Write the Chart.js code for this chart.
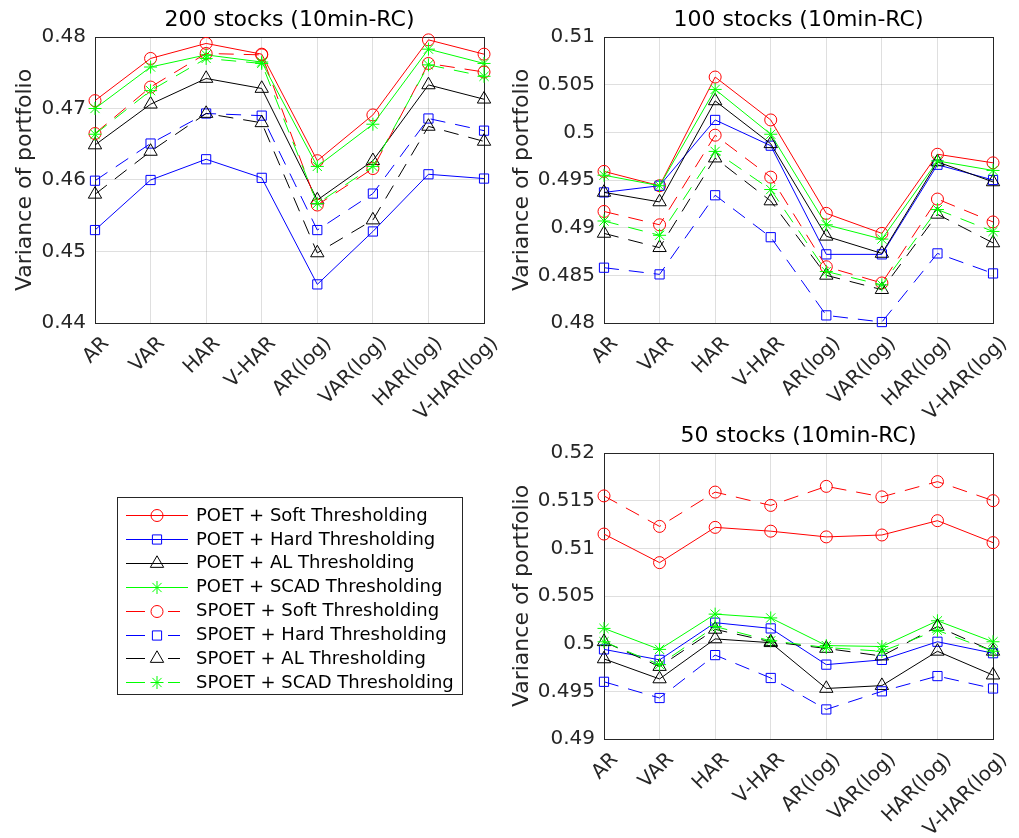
<!DOCTYPE html>
<html>
<head>
<meta charset="utf-8">
<script src="https://cdn.jsdelivr.net/npm/chart.js@4.4.1/dist/chart.umd.min.js"></script>
<style>
  body { margin: 0; background: #fff; }
  #wrap { position: relative; width: 1019px; height: 838px; }
  canvas { position: absolute; }
</style>
</head>
<body>
<div id="wrap">
  <canvas id="c200" width="510" height="420" style="left:0;top:0"></canvas>
  <canvas id="c100" width="519" height="420" style="left:500px;top:0"></canvas>
  <canvas id="c50" width="519" height="422" style="left:500px;top:416px"></canvas>
  <canvas id="legend" width="360" height="212" style="left:110px;top:490px"></canvas>
</div>
<script>
// categories (x axis)
const categories = ['AR', 'VAR', 'HAR', 'V-HAR', 'AR(log)', 'VAR(log)', 'HAR(log)', 'V-HAR(log)'];

const seriesNames = [
  'POET + Soft Thresholding', 'POET + Hard Thresholding', 'POET + AL Thresholding', 'POET + SCAD Thresholding',
  'SPOET + Soft Thresholding', 'SPOET + Hard Thresholding', 'SPOET + AL Thresholding', 'SPOET + SCAD Thresholding'
];

// y ticks per panel
const yTicks200 = [0.44, 0.45, 0.46, 0.47, 0.48];
const yTicks100 = [0.48, 0.485, 0.49, 0.495, 0.5, 0.505, 0.51];
const yTicks50 = [0.49, 0.495, 0.5, 0.505, 0.51, 0.515, 0.52];

// 200 stocks
const poetSoft200 = [0.4711, 0.4770, 0.4791, 0.4776, 0.4627, 0.4691, 0.4796, 0.4776];
const poetHard200 = [0.4530, 0.4600, 0.4629, 0.4603, 0.4454, 0.4528, 0.4608, 0.4602];
const poetAL200 = [0.4649, 0.4706, 0.4742, 0.4728, 0.4572, 0.4627, 0.4733, 0.4713];
const poetSCAD200 = [0.4700, 0.4758, 0.4775, 0.4765, 0.4619, 0.4678, 0.4783, 0.4763];
const spoetSoft200 = [0.4665, 0.4730, 0.4777, 0.4775, 0.4565, 0.4616, 0.4763, 0.4751];
const spoetHard200 = [0.4599, 0.4651, 0.4693, 0.4690, 0.4530, 0.4581, 0.4686, 0.4669];
const spoetAL200 = [0.4580, 0.4640, 0.4693, 0.4680, 0.4498, 0.4544, 0.4675, 0.4654];
const spoetSCAD200 = [0.4664, 0.4725, 0.4770, 0.4763, 0.4567, 0.4619, 0.4761, 0.4745];

// 100 stocks
const poetSoft100 = [0.4959, 0.4944, 0.5058, 0.5013, 0.4915, 0.4894, 0.4977, 0.4968];
const poetHard100 = [0.4937, 0.4944, 0.5013, 0.4986, 0.4872, 0.4872, 0.4966, 0.4950];
const poetAL100 = [0.4937, 0.4927, 0.5033, 0.4988, 0.4891, 0.4873, 0.4969, 0.4948];
const poetSCAD100 = [0.4955, 0.4944, 0.5045, 0.4998, 0.4903, 0.4888, 0.4970, 0.4960];
const spoetSoft100 = [0.4917, 0.4903, 0.4997, 0.4953, 0.4859, 0.4842, 0.4930, 0.4906];
const spoetHard100 = [0.4858, 0.4851, 0.4934, 0.4890, 0.4808, 0.4801, 0.4873, 0.4852];
const spoetAL100 = [0.4894, 0.4879, 0.4973, 0.4928, 0.4850, 0.4835, 0.4914, 0.4884];
const spoetSCAD100 = [0.4907, 0.4892, 0.4980, 0.4940, 0.4854, 0.4840, 0.4919, 0.4896];

// 50 stocks
const poetSoft50 = [0.5115, 0.5085, 0.5122, 0.5118, 0.5112, 0.5114, 0.5129, 0.5106];
const poetHard50 = [0.4994, 0.4983, 0.5022, 0.5016, 0.4978, 0.4983, 0.5002, 0.4990];
const poetAL50 = [0.4984, 0.4963, 0.5005, 0.5001, 0.4953, 0.4956, 0.4992, 0.4967];
const poetSCAD50 = [0.5016, 0.4994, 0.5031, 0.5027, 0.4998, 0.4997, 0.5024, 0.5002];
const spoetSoft50 = [0.5155, 0.5123, 0.5159, 0.5145, 0.5165, 0.5154, 0.5170, 0.5150];
const spoetHard50 = [0.4960, 0.4943, 0.4988, 0.4964, 0.4931, 0.4950, 0.4966, 0.4953];
const spoetAL50 = [0.5002, 0.4976, 0.5015, 0.5002, 0.4995, 0.4987, 0.5018, 0.4992];
const spoetSCAD50 = [0.5002, 0.4978, 0.5018, 0.5003, 0.4996, 0.4992, 0.5014, 0.4992];

const seriesColors = ['#ff0000', '#0000ff', '#000000', '#00ff00', '#ff0000', '#0000ff', '#000000', '#00ff00'];
const seriesMarkers = ['circle', 'rect', 'triangle', 'star', 'circle', 'rect', 'triangle', 'star'];
const markerRadius = { circle: 6, rect: 6.5, triangle: 7.7, star: 6.5 };

const FONT = "'DejaVu Sans', sans-serif";
const GRID = 'rgba(38,38,38,0.15)';
const AXIS = '#262626';

// draws the full axes box (MATLAB style)
const axesBox = {
  id: 'axesBox',
  beforeDatasetsDraw(chart) {
    const { ctx, chartArea: a } = chart;
    ctx.save();
    ctx.strokeStyle = AXIS;
    ctx.lineWidth = 1;
    ctx.strokeRect(Math.round(a.left) + 0.5, Math.round(a.top) + 0.5,
      Math.round(a.right - a.left), Math.round(a.bottom - a.top));
    ctx.restore();
  }
};

function makePanel(id, title, yTicks, values, box) {
  const ctx = document.getElementById(id).getContext('2d');
  return new Chart(ctx, {
    type: 'line',
    data: {
      labels: categories,
      datasets: values.map((v, i) => ({
        label: seriesNames[i],
        data: v,
        borderColor: seriesColors[i],
        borderWidth: 1,
        borderDash: i >= 4 ? [15, 10] : [],
        pointStyle: seriesMarkers[i],
        pointRadius: markerRadius[seriesMarkers[i]],
        pointBorderColor: seriesColors[i],
        pointBackgroundColor: 'rgba(0,0,0,0)',
        pointBorderWidth: 1,
        fill: false,
        tension: 0,
        clip: false,
        order: 7 - i
      }))
    },
    plugins: [axesBox],
    options: {
      responsive: false,
      animation: false,
      events: [],
      layout: { padding: { left: box.padLeft, right: box.padRight, top: 0, bottom: 0 } },
      plugins: {
        legend: { display: false },
        tooltip: { enabled: false },
        title: {
          display: true,
          fullSize: false,
          text: title,
          color: '#000',
          font: { family: FONT, size: 22, weight: 'normal' },
          padding: { top: 7, bottom: 3.6 }
        }
      },
      scales: {
        x: {
          offset: false,
          grid: { color: GRID, drawTicks: false },
          border: { display: false },
          ticks: {
            color: AXIS,
            font: { family: FONT, size: 20 },
            minRotation: 45,
            maxRotation: 45,
            autoSkip: false,
            padding: 9,
            labelOffset: 11
          },
          afterFit: s => { s.height = box.xHeight; }
        },
        y: {
          min: yTicks[0],
          max: yTicks[yTicks.length - 1],
          afterBuildTicks: s => { s.ticks = yTicks.map(v => ({ value: v })); },
          grid: { color: GRID, drawTicks: false },
          border: { display: false },
          ticks: {
            color: AXIS,
            font: { family: FONT, size: 20 },
            padding: 9,
            callback: v => String(+v.toFixed(3))
          },
          title: {
            display: true,
            text: 'Variance of portfolio',
            color: AXIS,
            font: { family: FONT, size: 22 },
            padding: { top: 6, bottom: 0 }
          },
          afterFit: s => { s.width = box.yWidth; }
        }
      }
    }
  });
}

makePanel('c200', '200 stocks (10min-RC)', yTicks200,
  [poetSoft200, poetHard200, poetAL200, poetSCAD200, spoetSoft200, spoetHard200, spoetAL200, spoetSCAD200],
  { padLeft: 6, padRight: 24, yWidth: 89, xHeight: 97 });

makePanel('c100', '100 stocks (10min-RC)', yTicks100,
  [poetSoft100, poetHard100, poetAL100, poetSCAD100, spoetSoft100, spoetHard100, spoetAL100, spoetSCAD100],
  { padLeft: 3, padRight: 24, yWidth: 101, xHeight: 97 });

makePanel('c50', '50 stocks (10min-RC)', yTicks50,
  [poetSoft50, poetHard50, poetAL50, poetSCAD50, spoetSoft50, spoetHard50, spoetAL50, spoetSCAD50],
  { padLeft: 3, padRight: 24, yWidth: 101, xHeight: 99 });

// legend box
const lctx = document.getElementById('legend').getContext('2d');
lctx.fillStyle = '#fff';
lctx.fillRect(7, 7, 345, 197);
lctx.strokeStyle = AXIS;
lctx.lineWidth = 1;
lctx.strokeRect(7.5, 7.5, 345, 197);
lctx.font = '18px ' + FONT;
lctx.textBaseline = 'middle';
seriesNames.forEach((name, i) => {
  const y = 25 + i * 23.9;
  const yy = Math.round(y) + 0.5;
  lctx.strokeStyle = seriesColors[i];
  lctx.lineWidth = 1;
  lctx.beginPath();
  if (i < 4) {
    lctx.moveTo(16, yy); lctx.lineTo(78, yy);
  } else {
    lctx.moveTo(16, yy); lctx.lineTo(35, yy);
    lctx.moveTo(58, yy); lctx.lineTo(70, yy);
  }
  lctx.stroke();
  lctx.fillStyle = 'rgba(0,0,0,0)';
  Chart.helpers.drawPoint(lctx, {
    pointStyle: seriesMarkers[i],
    radius: markerRadius[seriesMarkers[i]],
    borderWidth: 1,
    rotation: 0
  }, 47, yy);
  lctx.fillStyle = '#000';
  lctx.fillText(name, 86, y + 1);
});
</script>
</body>
</html>
